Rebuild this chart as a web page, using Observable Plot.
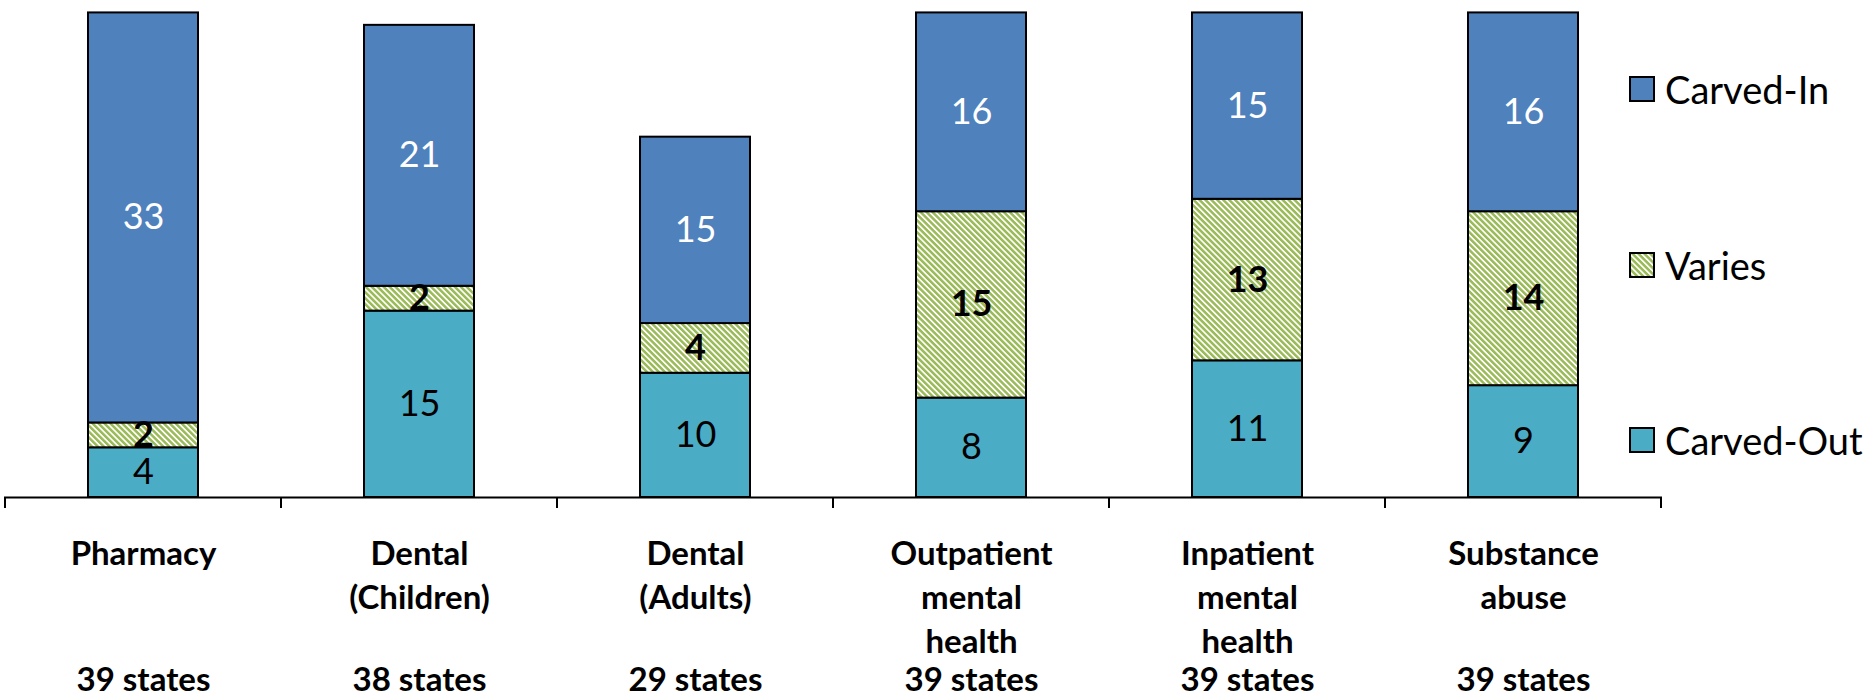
<!DOCTYPE html>
<html><head><meta charset="utf-8">
<script src="https://cdn.jsdelivr.net/npm/d3@7"></script>
<script src="https://cdn.jsdelivr.net/npm/@observablehq/plot@0.6"></script>
<style>
body{margin:0;background:#fff;font-family:Lato,sans-serif}
#wrap{position:relative;width:1866px;height:697px;overflow:hidden}
.item{position:absolute;left:1629px;height:40px;display:flex;align-items:center;white-space:nowrap;font-size:38px;color:#000;font-family:Lato,sans-serif}
.item svg{margin-right:10px;display:block}
</style></head><body><div id="wrap"></div>
<script>
const categoryLines = [["Pharmacy"],["Dental","(Children)"],["Dental","(Adults)"],["Outpatient","mental","health"],["Inpatient","mental","health"],["Substance","abuse"]];
const categories = categoryLines.map(l => l.join(" "));
const stateCounts = [39, 38, 29, 39, 39, 39];
const series = ["Carved-Out", "Varies", "Carved-In"];
const carvedOut = [4, 15, 10, 8, 11, 9];
const varies = [2, 2, 4, 15, 13, 14];
const carvedIn = [33, 21, 15, 16, 15, 16];
const seriesColors = ["#4BACC6", "url(#hatch)", "#4F81BD"];
const labelColors = ["#000", "#000", "#fff"];
const labelWeights = ["normal", "bold", "normal"];

const seriesValues = [carvedOut, varies, carvedIn];
const data = [];
categories.forEach((c, i) => series.forEach((s, j) => data.push({category: c, series: s, value: seriesValues[j][i]})));

const ns = "http://www.w3.org/2000/svg";
const defsMark = () => {
  const defs = document.createElementNS(ns, "defs");
  defs.innerHTML = `<pattern id="hatch" width="4.2" height="4.2" patternUnits="userSpaceOnUse" patternTransform="rotate(-45)"><rect width="4.2" height="4.2" fill="#fff"/><rect width="2.5" height="4.2" fill="#9BBB59"/></pattern>`;
  return defs;
};
const ticksMark = (index, scales) => {
  const x = scales.x, y = scales.y;
  const bw = x.bandwidth ? x.bandwidth() : 0;
  const step = x.step ? x.step() : (x(categories[1]) - x(categories[0]));
  const gap = (step - bw) / 2;
  const y0 = y(0);
  const g = document.createElementNS(ns, "g");
  const pos = categories.map(c => x(c) - gap).concat([x(categories[categories.length - 1]) + bw + gap]);
  for (const px of pos) {
    const l = document.createElementNS(ns, "line");
    l.setAttribute("x1", px); l.setAttribute("x2", px);
    l.setAttribute("y1", y0); l.setAttribute("y2", y0 + 11);
    l.setAttribute("stroke", "#000"); l.setAttribute("stroke-width", 2);
    g.appendChild(l);
  }
  return g;
};

const labelMarks = series.map((s, j) => Plot.text(data, Plot.stackY({
  x: "category", y: "value", z: "series",
  text: d => d.series === s ? String(d.value) : null,
  fill: labelColors[j], fontWeight: labelWeights[j], fontSize: 36
})));

const plot = Plot.plot({
  width: 1866, height: 697,
  marginTop: 0, marginBottom: 200, marginLeft: 4, marginRight: 204,
  style: {fontFamily: "Lato, sans-serif", background: "white", overflow: "visible"},
  x: {domain: categories, paddingInner: 0.6, paddingOuter: 0.3, axis: null},
  y: {domain: [0, 40], axis: null},
  color: {domain: series, range: seriesColors},
  marks: [
    defsMark,
    Plot.barY(data, {x: "category", y: "value", z: "series", fill: "series", stroke: "#000", strokeWidth: 2}),
    Plot.ruleY([0], {stroke: "#000", strokeWidth: 2}),
    ticksMark,
    ...labelMarks,
    Plot.text(categories, {x: d => d, text: (d, i) => categoryLines[i].join("\n"), frameAnchor: "bottom", lineAnchor: "top", dy: 36, fontSize: 33, fontWeight: "bold", lineHeight: 1.34, fill: "#000"}),
    Plot.text(categories, {x: d => d, text: (d, i) => `${stateCounts[i]} states`, frameAnchor: "bottom", lineAnchor: "top", dy: 170, fontSize: 33, fontWeight: "bold", fill: "#000"})
  ]
});
const wrap = document.getElementById("wrap");
wrap.appendChild(plot);

// legend
const legendCenters = {"Carved-In": 89, "Varies": 265, "Carved-Out": 440};
series.slice().reverse().forEach(s => {
  const j = series.indexOf(s);
  const item = document.createElement("div");
  item.className = "item";
  item.style.top = (legendCenters[s] - 20) + "px";
  item.innerHTML = `<svg width="26" height="26"><rect x="1" y="1" width="24" height="24" fill="${seriesColors[j]}" stroke="#000" stroke-width="2"/></svg><span>${s}</span>`;
  wrap.appendChild(item);
});
</script></body></html>
